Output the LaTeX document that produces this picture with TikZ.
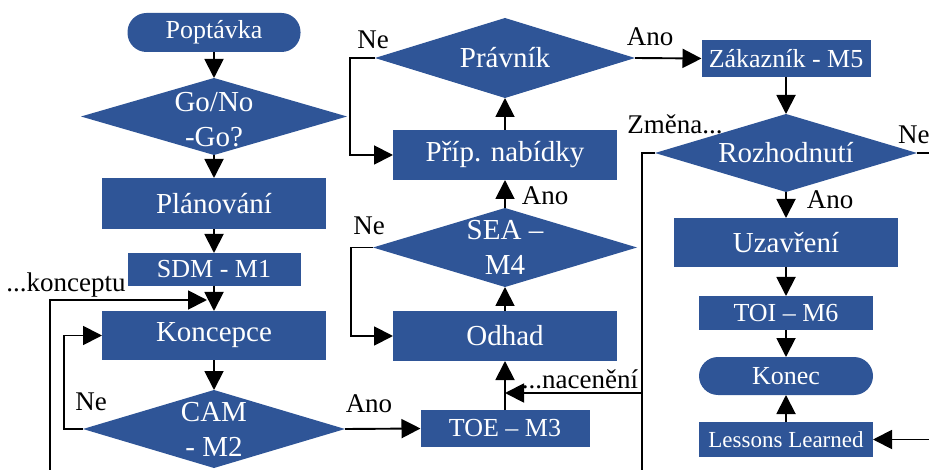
\documentclass[tikz,border=0pt]{standalone}
\usepackage{fontspec}
\setmainfont{Liberation Serif}
\usetikzlibrary{shapes.geometric,arrows.meta,calc}
\definecolor{flowblue}{RGB}{47,85,151}
\begin{document}
\begin{tikzpicture}[x=1pt,y=-1pt,
  box/.style={fill=flowblue,text=white,inner sep=0pt,outer sep=0pt,
    font=\fontsize{29}{35}\selectfont},
  smallbox/.style={box,font=\fontsize{26}{30}\selectfont},
  term/.style={smallbox,rounded corners=19pt},
  dia/.style={diamond,fill=flowblue,inner sep=0pt,outer sep=0pt},
  dtext/.style={text=white,align=center,inner sep=0pt,
    font=\fontsize{29}{35}\selectfont},
  flow/.style={line width=1.9pt,-{Triangle[length=19pt,width=19pt]}},
  plain/.style={line width=1.9pt},
  lab/.style={font=\fontsize{27}{30}\selectfont,inner sep=0pt}
]
\useasboundingbox (0,0) rectangle (929,470);

% left column
\node[term, minimum width=173pt, minimum height=39pt] (pop) at (214,32.5) {Poptávka};
\node[dia, minimum width=266pt, minimum height=77pt,
  label={[dtext,yshift=-3pt]center:Go/No\\-Go?}] (go) at (214,116.5) {};
\node[box, minimum width=224pt, minimum height=51pt] (plan) at (214,203.5) {Plánování};
\node[smallbox, minimum width=173pt, minimum height=33pt] (sdm) at (214,269.5) {SDM - M1};
\node[box, minimum width=224pt, minimum height=49pt] (konc) at (214,335.5) {Koncepce};
\node[dia, minimum width=262pt, minimum height=78pt,
  label={[dtext]center:CAM\\- M2}] (cam) at (214,429) {};

% middle column
\node[smallbox, minimum width=169pt, minimum height=37pt] (toe) at (505,428.5) {TOE – M3};
\node[box, minimum width=224pt, minimum height=50pt] (odhad) at (505,336) {Odhad};
\node[dia, minimum width=264pt, minimum height=79pt,
  label={[dtext]center:SEA –\\M4}] (sea) at (505,247.5) {};
\node[box, minimum width=224pt, minimum height=50pt] (prip) at (505,155) {Příp. nabídky};
\node[dia, minimum width=260pt, minimum height=80pt,
  label={[dtext]center:Právník}] (prav) at (505,58) {};

% right column
\node[smallbox, minimum width=169pt, minimum height=37pt] (zak) at (786,58.5) {Zákazník - M5};
\node[dia, minimum width=262pt, minimum height=78pt,
  label={[dtext]center:Rozhodnutí}] (rozh) at (786,153) {};
\node[box, minimum width=224pt, minimum height=49pt] (uzav) at (786,242.5) {Uzavření};
\node[smallbox, minimum width=174pt, minimum height=34pt] (toi) at (786,313) {TOI – M6};
\node[term, minimum width=174pt, minimum height=38pt] (konec) at (786,376) {Konec};
\node[box, font=\fontsize{23}{27}\selectfont, minimum width=174pt, minimum height=35pt]
  (ll) at (786,439.5) {Lessons Learned};

% loose ends of connectors
\coordinate (kbot) at (50,470);
\coordinate (ktip) at (207,300);
\coordinate (zbot) at (642,470);
\coordinate (zmid) at (642,393);
\coordinate (nend) at (929,153);
\coordinate (lin) at (929,439.5);

% main flow
\draw[flow] (pop) -- (go);
\draw[flow] (go) -- (plan);
\draw[flow] (plan) -- (sdm);
\draw[flow] (sdm) -- (konc);
\draw[flow] (konc) -- (cam);
\draw[flow] (cam.west) -- ++(-19,0) |- (konc.west);
\draw[flow] (cam.east) -- (toe.west);
\draw[flow] (toe.north) -- (odhad.south);
\draw[flow] (odhad.north) -- (sea.south);
\draw[flow] (sea.west) -- ++(-22,0) |- (odhad.west);
\draw[flow] (sea.north) -- (prip.south);
\draw[flow] (prip.north) -- (prav.south);
\draw[flow] (prav.west) -- ++(-25,0) |- (prip.west);
\draw[flow] (prav.east) -- (zak.west);
\draw[flow] (zak.south) -- (rozh.north);
\draw[flow] (rozh.south) -- (uzav.north);
\draw[flow] (uzav.south) -- (toi.north);
\draw[flow] (toi.south) -- (konec.north);
\draw[flow] (ll.north) -- (konec.south);

% returns and exits
\draw[flow] (kbot) |- (ktip);
\draw[plain] (rozh.west) -| (zbot);
\draw[flow] (zmid) -- (zmid -| toe.north);
\draw[plain] (rozh.east) -- (nend);
\draw[flow] (lin) -- (ll.east);

% branch labels
\node[lab] (lkonc) at (66,285) {...konceptu};
\node[lab] (lne1) at (91,402) {Ne};
\node[lab] (lano1) at (369,404) {Ano};
\node[lab] (lnac) at (580,379) {...nacenění};
\node[lab] (lne2) at (369,226) {Ne};
\node[lab] (lano2) at (545,196) {Ano};
\node[lab] (lne3) at (373,40) {Ne};
\node[lab] (lano3) at (650,37) {Ano};
\node[lab] (lzm) at (675,124) {Změna...};
\node[lab, anchor=west] (lne4) at (898,135) {Ne};
\node[lab] (lano4) at (830,200) {Ano};
\end{tikzpicture}
\end{document}
